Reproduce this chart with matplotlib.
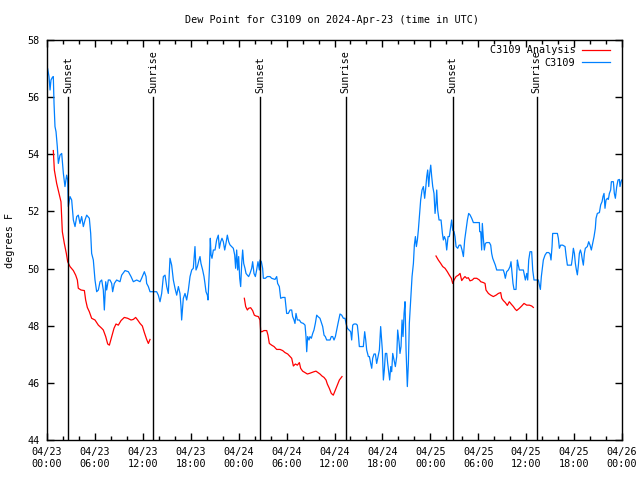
import datetime as dt
import numpy as np
import matplotlib
matplotlib.use("Agg")
import matplotlib.pyplot as plt
import matplotlib.dates as mdates

START = dt.datetime(2024, 4, 23, 0, 0)

# observed dew point (hours since 04/23 00:00 UTC, deg F)
obs_hours = [
    0.0, 0.08, 0.25, 0.38, 0.5, 0.67, 0.79, 0.88, 1.0, 1.13, 1.29, 1.42, 1.63, 1.84,
    2.05, 2.25, 2.46, 2.59, 2.67, 2.88, 3.09, 3.3, 3.51, 3.72, 3.92, 4.13, 4.34, 4.55,
    4.76, 4.97, 5.3, 5.47, 5.59, 5.8, 6.01, 6.22, 6.43, 6.64, 6.85, 7.05, 7.18, 7.35,
    7.47, 7.68, 7.89, 8.1, 8.22, 8.43, 8.72, 9.14, 9.35, 9.77, 10.19, 10.52, 10.81,
    11.23, 11.65, 11.85, 12.19, 12.4, 12.48, 12.69, 12.9, 13.32, 13.73, 13.94, 14.15,
    14.36, 14.57, 14.78, 14.99, 15.19, 15.4, 15.61, 15.82, 16.03, 16.24, 16.45, 16.65,
    16.78, 16.86, 17.07, 17.28, 17.49, 17.7, 17.91, 18.12, 18.32,
    18.53, 18.66, 18.83, 19.03, 19.16, 19.28, 19.49, 19.66, 19.78, 19.91, 20.08, 20.16,
    20.33, 20.45, 20.54, 20.66, 20.83, 21.04, 21.24, 21.45, 21.58, 21.75, 21.91, 22.08,
    22.25, 22.41, 22.58, 22.75, 22.91, 23.12, 23.33, 23.5, 23.62, 23.75, 23.88, 24.0,
    24.13, 24.25, 24.38, 24.5, 24.63, 24.79, 24.92, 25.09, 25.25, 25.42, 25.63, 25.75,
    25.92, 26.09, 26.25, 26.42, 26.59, 26.67, 26.84, 27.0, 27.09, 27.34, 27.59, 27.92,
    28.13, 28.55, 28.76, 28.88, 29.09, 29.26, 29.51, 29.8, 30.01, 30.22, 30.43, 30.64,
    30.76, 30.93, 31.05, 31.18, 31.35, 31.6, 31.81, 32.1, 32.31, 32.43, 32.52, 32.64,
    32.81, 32.93, 33.1, 33.27, 33.43, 33.6, 33.77, 33.93, 34.18, 34.39, 34.52, 34.69,
    34.85, 35.02, 35.23, 35.44, 35.6, 35.77, 35.94, 36.11, 36.27, 36.44,
    36.69, 36.9, 37.11, 37.32, 37.44, 37.61, 37.82, 38.03, 38.15, 38.28, 38.45, 38.7,
    38.86, 38.99, 39.11, 39.41, 39.61, 39.78, 39.91, 40.03, 40.24, 40.37, 40.53, 40.66,
    40.78, 40.95, 41.12, 41.28, 41.45, 41.62, 41.78, 41.87, 41.99, 42.12, 42.24, 42.37,
    42.54, 42.66, 42.79, 42.91, 43.04, 43.16, 43.29, 43.45, 43.62, 43.79, 43.91, 44.08,
    44.2, 44.33, 44.46, 44.58, 44.71, 44.83, 44.96, 45.12, 45.25, 45.37, 45.54, 45.71,
    45.88, 46.0, 46.13, 46.25, 46.38, 46.5, 46.63, 46.79, 46.96, 47.13, 47.29, 47.42,
    47.55, 47.67, 47.8, 47.92, 48.05, 48.17, 48.3, 48.46, 48.59, 48.71, 48.8, 48.92,
    49.09, 49.34, 49.51, 49.63, 49.76, 49.92, 50.05, 50.22, 50.38, 50.55, 50.67, 50.8,
    50.97, 51.09, 51.22, 51.43, 51.6, 51.8, 51.97, 52.14, 52.3, 52.47, 52.64, 52.8,
    52.97, 53.18, 53.39, 53.81, 54.14, 54.18,
    54.31, 54.43, 54.51, 54.64, 54.76, 54.89, 55.06, 55.39, 55.56, 55.68, 55.81, 55.98,
    56.14, 56.31, 56.52, 56.94, 57.14, 57.27, 57.39, 57.56, 57.77, 57.98, 58.1, 58.23,
    58.35, 58.48, 58.73, 58.9, 59.02, 59.15, 59.44, 59.65, 59.77, 59.9, 60.07, 60.19,
    60.32, 60.48, 60.69, 60.82, 60.98, 61.32, 61.53, 61.65, 61.78, 61.9, 62.03, 62.15,
    62.36, 62.57, 62.82, 62.99, 63.11, 63.24, 63.32, 63.61, 63.91, 64.03, 64.16, 64.32,
    64.57, 64.87, 64.99, 65.16, 65.41, 65.66, 65.78, 65.91, 66.04, 66.16, 66.29, 66.41,
    66.54, 66.66, 66.79, 66.91, 67.04, 67.16, 67.29, 67.41, 67.66, 67.83, 68.0, 68.16,
    68.33, 68.5, 68.66, 68.75, 68.91, 69.17, 69.33, 69.5, 69.62, 69.75, 69.87, 70.0,
    70.17, 70.29, 70.42, 70.58, 70.67, 70.92, 71.04, 71.17, 71.34, 71.5, 71.67, 71.75,
    71.88, 71.96,
]
obs_dewpt = [
    57.07, 57.0, 56.72, 56.25, 56.6, 56.69, 56.72, 55.78, 54.97, 54.79, 54.27, 53.68, 53.97, 54.03,
    53.33, 52.87, 53.27, 53.1, 52.17, 52.52, 52.4, 51.7, 51.47, 51.82, 51.87, 51.58, 51.82, 51.47,
    51.7, 51.87, 51.76, 51.23, 50.53, 50.3, 49.6, 49.19, 49.25, 49.54, 49.6, 49.25, 48.55, 49.54,
    49.25, 49.6, 49.6, 49.48, 49.19, 49.48, 49.6, 49.54, 49.77, 49.93, 49.89, 49.72, 49.54,
    49.6, 49.54, 49.66, 49.89, 49.72, 49.48, 49.37, 49.19, 49.19, 49.19, 49.07, 48.84,
    49.13, 49.72, 49.77, 49.37, 49.13, 50.36, 50.12, 49.6, 49.31, 49.07, 49.37, 49.13,
    48.67, 48.2, 48.96, 49.13, 48.9, 49.25, 49.72, 49.95, 50.01,
    50.77, 49.95, 50.07, 50.3, 50.42, 50.18, 49.95, 49.72, 49.48, 49.19, 49.07, 48.9,
    49.95, 51.06, 50.48, 50.36, 50.65, 50.65, 51.0, 51.17, 50.71, 50.94, 51.06, 50.94,
    50.65, 50.88, 51.17, 50.94, 50.83, 50.77, 50.71, 50.48, 50.01, 50.65, 49.95, 50.42,
    49.66, 49.37, 50.18, 50.65, 50.18, 50.01, 49.83, 49.77, 49.72, 49.83, 50.01, 50.24,
    49.83, 49.72, 49.95, 50.24, 49.95, 50.3, 50.24, 50.01, 49.66, 49.66, 49.72, 49.72,
    49.66, 49.62, 49.72, 49.48, 49.37, 48.96, 48.99, 48.99, 48.43, 48.43, 48.55, 48.55,
    48.32, 48.2, 48.08, 48.43, 48.2, 48.2, 48.11, 48.08, 48.02, 47.62, 47.09, 47.62,
    47.5, 47.62, 47.56, 47.73, 47.85, 48.08, 48.37, 48.32, 48.26, 48.08, 47.97, 47.67,
    47.62, 47.5, 47.5, 47.5, 47.62, 47.62, 47.5, 47.62, 47.85, 48.08,
    48.41, 48.37, 48.26, 48.26, 48.08, 47.91, 47.85, 47.79, 47.5, 48.02, 48.06, 48.06,
    48.02, 47.67, 47.27, 47.27, 47.27, 47.79, 47.5, 47.15, 46.92, 46.92, 46.68, 46.51,
    46.86, 47.01, 47.01, 46.68, 46.92, 47.15, 47.97, 47.62, 47.15, 46.1, 46.45, 47.03,
    47.03, 46.68, 46.39, 46.1, 46.57, 46.39, 47.03, 46.8, 46.57, 46.92, 47.85, 47.44,
    47.03, 47.27, 48.2, 47.62, 48.43, 48.84, 47.15, 45.87, 46.68, 48.08, 48.9, 49.72,
    50.18, 50.82, 51.12, 50.77, 51.0, 51.35, 51.82, 52.4, 52.75, 52.87, 52.46, 52.81,
    53.22, 53.45, 52.87, 53.33, 53.62, 53.22, 52.87, 52.63, 51.93, 52.28, 52.75, 52.05,
    51.7, 51.7, 51.23, 51.0, 51.12, 51.0, 50.65, 51.12, 51.12, 51.47, 51.7, 51.35,
    51.29, 51.12, 50.77, 50.71, 50.82, 50.82, 50.65, 50.42, 51.0, 51.35, 51.7, 51.93,
    51.88, 51.76, 51.61, 51.61, 51.61, 51.29,
    51.29, 50.65, 51.58, 51.06, 50.65, 50.88, 50.91, 50.91, 50.82, 50.53, 50.36, 50.24,
    50.12, 49.95, 49.95, 49.95, 49.95, 49.83, 49.66, 49.89, 49.95, 50.07, 50.24, 49.83,
    49.48, 49.27, 49.27, 50.3, 50.12, 49.95, 49.95, 49.95, 49.78, 49.6, 49.83, 49.6,
    50.3, 50.59, 50.59, 49.95, 49.6, 49.6, 49.6, 49.43, 49.27, 49.72, 50.01, 50.3,
    50.47, 50.56, 50.56, 50.51, 50.3, 50.77, 51.23, 51.23, 51.23, 51.06, 50.71, 50.82,
    50.82, 50.77, 50.47, 50.12, 50.12, 50.12, 50.36, 50.71, 50.53, 50.18, 49.95, 49.78,
    50.12, 50.53, 50.65, 50.53, 50.3, 50.12, 50.53, 50.71, 50.77, 50.94, 50.82, 50.65,
    50.88, 51.12, 51.41, 51.76, 51.93, 51.96, 52.23, 52.34, 52.52, 52.63, 52.11, 52.4,
    52.46, 52.42, 52.63, 52.75, 53.04, 53.04, 52.63, 52.46, 52.87, 53.1, 53.12, 52.87,
    53.04, 53.1,
]

# analysis dew point, nan marks gaps between runs
ana_hours = [
    0.79, 0.92, 1.21, 1.5, 1.75, 1.92, 2.17, 2.42, 2.59, 2.88, 3.3, 3.59, 3.8, 3.92,
    4.26, 4.68, 4.84, 5.05, 5.3, 5.59, 6.01, 6.43, 6.85, 7.05, 7.35, 7.6, 7.81, 8.1,
    8.39, 8.64, 8.93, 9.27, 9.68, 10.1, 10.52, 10.81, 11.1, 11.35, 11.65, 11.94, 12.19,
    12.48, 12.69, 12.9,
    18.0,
    24.71, 24.88, 25.09, 25.25, 25.5, 25.75, 25.96, 26.17, 26.46, 26.67, 26.76, 26.92,
    27.17, 27.51, 27.67, 27.84, 28.13, 28.43, 28.76, 29.18, 29.51, 29.8, 30.14, 30.43,
    30.64, 30.85, 31.1, 31.35, 31.6, 31.76, 32.01, 32.31, 32.6, 32.85, 33.14, 33.43,
    33.68, 33.93, 34.18, 34.43, 34.69, 34.94, 35.1, 35.35, 35.6, 35.85, 36.11, 36.36,
    36.61, 36.94,
    42.0,
    48.71, 49.0, 49.3, 49.55, 49.84, 50.13, 50.38, 50.63, 50.8, 50.97, 51.22, 51.51,
    51.72, 51.93, 52.14, 52.34, 52.55, 52.76, 52.97, 53.26, 53.47, 53.81, 54.14, 54.31,
    54.64, 54.85, 54.97, 55.27, 55.56, 55.89, 56.23, 56.52, 56.81, 56.94, 57.14, 57.39,
    57.64, 57.89, 58.15, 58.4, 58.6, 58.81, 59.15, 59.44, 59.73, 60.07, 60.4, 60.69,
    60.9,
]
ana_dewpt = [
    54.13, 53.45, 52.98, 52.63, 52.34, 51.29, 50.88, 50.53, 50.24, 50.07, 49.93, 49.77, 49.6, 49.31,
    49.25, 49.23, 48.9, 48.64, 48.49, 48.26, 48.2, 48.02, 47.91, 47.85, 47.62, 47.36, 47.32, 47.62,
    47.91, 48.06, 48.02, 48.18, 48.29, 48.26, 48.2, 48.22, 48.29, 48.2, 48.08, 47.99, 47.76,
    47.52, 47.38, 47.52,
    np.nan,
    48.96, 48.67, 48.55, 48.61, 48.63, 48.53, 48.37, 48.34, 48.32, 48.2, 47.79, 47.79,
    47.83, 47.83, 47.67, 47.38, 47.32, 47.27, 47.17, 47.17, 47.13, 47.06, 47.01, 46.92,
    46.86, 46.59, 46.66, 46.62, 46.71, 46.51, 46.41, 46.36, 46.31, 46.33, 46.36, 46.39,
    46.41, 46.36, 46.31, 46.24, 46.19, 46.1, 45.96, 45.81, 45.63, 45.57, 45.75, 45.92,
    46.1, 46.22,
    np.nan,
    50.44, 50.3, 50.18, 50.07, 50.01, 49.89, 49.77, 49.66, 49.48, 49.6, 49.72, 49.77,
    49.83, 49.58, 49.66, 49.72, 49.66, 49.68, 49.57, 49.6, 49.66, 49.66, 49.6, 49.54,
    49.51, 49.48, 49.25, 49.13, 49.07, 49.02, 49.07, 49.13, 49.16, 48.96, 48.88, 48.81,
    48.71, 48.84, 48.75, 48.67, 48.59, 48.53, 48.61, 48.69, 48.78, 48.72, 48.72, 48.69,
    48.64,
]

sun_hours = [2.67, 13.32, 26.71, 37.4, 50.8, 61.32]
sun_labels = ["Sunset", "Sunrise", "Sunset", "Sunrise", "Sunset", "Sunrise"]


def to_times(hours):
    return [START + dt.timedelta(hours=h) for h in hours]


FONT = "DejaVu Sans Mono"
FS = 7.3
plt.rcParams["font.family"] = FONT
plt.rcParams["font.size"] = FS

fig = plt.figure(figsize=(6.4, 4.8), dpi=100)
ax = fig.add_axes([47 / 640, 1 - 440 / 480, 575 / 640, 400 / 480])

ax.plot(to_times(ana_hours), ana_dewpt, color="#ff0000", lw=0.9, label="C3109 Analysis")
ax.plot(to_times(obs_hours), obs_dewpt, color="#0080ff", lw=0.9, label="C3109")

for h, lab in zip(sun_hours, sun_labels):
    t = START + dt.timedelta(hours=h)
    ax.plot([t, t], [44, 56], color="black", lw=1.0)
    ax.text(t, 56.15, lab, rotation=90, ha="center", va="bottom", fontsize=FS)

ax.set_xlim(START, START + dt.timedelta(hours=72))
ax.set_ylim(44, 58)
ax.set_yticks(np.arange(44, 59, 2))
ax.xaxis.set_major_locator(mdates.HourLocator(byhour=[0, 6, 12, 18]))
ax.xaxis.set_minor_locator(mdates.HourLocator(interval=2))
ax.xaxis.set_major_formatter(mdates.DateFormatter("%m/%d\n%H:%M"))

ax.tick_params(which="both", direction="in", top=True, right=True, labelsize=FS, width=1)
ax.tick_params(which="major", length=5, pad=5)
ax.tick_params(which="minor", length=3)
for s in ax.spines.values():
    s.set_linewidth(1)

leg = ax.legend(loc="upper right", bbox_to_anchor=(1 - 7 / 575, 1),
                markerfirst=False, frameon=False, fontsize=FS,
                handlelength=2.8, handletextpad=0.6, labelspacing=0.25,
                borderaxespad=0.3, borderpad=0.2)

fig.text(332 / 640, 1 - 20 / 480, "Dew Point for C3109 on 2024-Apr-23 (time in UTC)",
         ha="center", va="center", fontsize=FS)
fig.text(10 / 640, 0.5, "degrees F", rotation=90, ha="center", va="center", fontsize=FS)

fig.savefig("out.png", dpi=100)
